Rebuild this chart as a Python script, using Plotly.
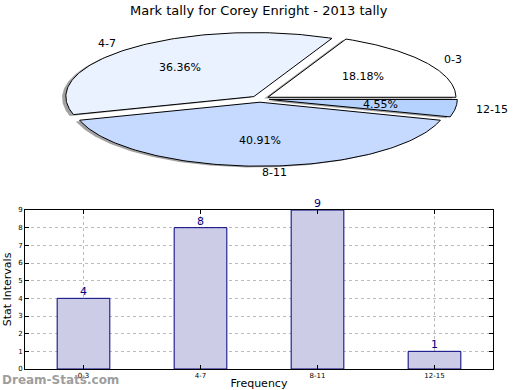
import numpy as np
import plotly.graph_objects as go

# ---- data ----
categories = ["0-3", "4-7", "8-11", "12-15"]
counts = [4, 8, 9, 1]
pie_colors = ["#FFFFFF", "#EBF2FF", "#C6D9FF", "#B5D2FF"]
explode = [0.05, 0.05, 0.05, 0.05]
title_text = "Mark tally for Corey Enright - 2013 tally"

# ---- pie geometry (pixel space of the top area) ----
cx, cy, rx, ry = 260.0, 99.0, 188.0, 64.0

fig = go.Figure()

total = float(sum(counts))
fracs = [c / total for c in counts]
starts = np.cumsum([0.0] + fracs[:-1]) * 360.0
ends = starts + np.array(fracs) * 360.0


def wedge(a0, a1, ox, oy):
    t = np.radians(np.linspace(a0, a1, 120))
    xs = np.concatenate([[cx + ox], cx + ox + rx * np.cos(t), [cx + ox]])
    ys = np.concatenate([[cy + oy], cy + oy - ry * np.sin(t), [cy + oy]])
    return xs, ys


offsets = []
for i in range(len(counts)):
    mid = np.radians((starts[i] + ends[i]) / 2)
    ox = explode[i] * rx * np.cos(mid)
    oy = -explode[i] * ry * np.sin(mid)
    offsets.append((ox, oy, mid))

# ---- bar chart ----
fig.add_trace(go.Bar(x=categories, y=counts, width=0.45,
                     marker=dict(color="#CCCCE6", line=dict(color="#000080", width=1)),
                     showlegend=False, xaxis="x", yaxis="y"))

# shadows
for i in range(len(counts)):
    ox, oy, mid = offsets[i]
    xs, ys = wedge(starts[i], ends[i], ox - 0.02 * rx, oy + 0.02 * ry)
    fig.add_trace(go.Scatter(x=xs, y=ys, xaxis="x2", yaxis="y2", mode="lines",
                             fill="toself", fillcolor="rgba(70,70,70,0.5)",
                             line=dict(width=0), hoverinfo="skip", showlegend=False))
# wedges
for i in range(len(counts)):
    ox, oy, mid = offsets[i]
    xs, ys = wedge(starts[i], ends[i], ox, oy)
    fig.add_trace(go.Scatter(x=xs, y=ys, xaxis="x2", yaxis="y2", mode="lines",
                             fill="toself", fillcolor=pie_colors[i],
                             line=dict(color="black", width=1), hoverinfo="skip",
                             showlegend=False))

annotations = []
for i in range(len(counts)):
    ox, oy, mid = offsets[i]
    lx = cx + ox + 1.1 * rx * np.cos(mid)
    ly = cy + oy - 1.1 * ry * np.sin(mid)
    annotations.append(dict(x=lx, y=ly, xref="x2", yref="y2", text=categories[i],
                            showarrow=False, xanchor="left" if np.cos(mid) > -1e-6 else "right",
                            yanchor="middle", font=dict(size=11, color="black")))
    px = cx + ox + 0.6 * rx * np.cos(mid)
    py = cy + oy - 0.6 * ry * np.sin(mid)
    annotations.append(dict(x=px, y=py, xref="x2", yref="y2",
                            text="%.2f%%" % (fracs[i] * 100), showarrow=False,
                            xanchor="center", yanchor="middle",
                            font=dict(size=11, color="black")))

# bar value labels
for c, v in zip(categories, counts):
    annotations.append(dict(x=c, y=v, xref="x", yref="y", text=str(v),
                            showarrow=False, xanchor="center", yanchor="bottom",
                            yshift=-2, font=dict(size=11, color="#000080")))

annotations.append(dict(x=259, y=10, xref="x2", yref="y2", text=title_text,
                        showarrow=False, xanchor="center", yanchor="middle",
                        font=dict(size=13, color="black")))
annotations.append(dict(x=0, y=10 / 390, xref="paper", yref="paper",
                        text="<b>Dream-Stats.com</b>",
                        showarrow=False, xanchor="left", yanchor="middle",
                        font=dict(size=12, color="rgba(140,140,140,0.85)")))

fig.update_layout(
    width=520, height=390,
    margin=dict(l=0, r=0, t=0, b=0),
    paper_bgcolor="white", plot_bgcolor="rgba(0,0,0,0)",
    font=dict(family="DejaVu Sans", color="black"),
    showlegend=False,
    xaxis=dict(domain=[25 / 520, 493 / 520], range=[-0.5, 3.5], type="category",
               showline=True, linecolor="black", linewidth=1, mirror="allticks",
               ticks="inside", ticklen=4, tickcolor="black",
               showgrid=True, gridcolor="#BBBBBB", griddash="dot", gridwidth=1,
               tickfont=dict(size=7), layer="above traces", automargin=False,
               title=dict(text="Frequency", font=dict(size=11), standoff=8),
               zeroline=False, fixedrange=True),
    yaxis=dict(domain=[21 / 390, 180 / 390], range=[0, 9], dtick=1,
               showline=True, linecolor="black", linewidth=1, mirror="allticks",
               ticks="inside", ticklen=4, tickcolor="black",
               showgrid=True, gridcolor="#BBBBBB", griddash="dot", gridwidth=1,
               tickfont=dict(size=7), layer="above traces", automargin=False,
               title=dict(text="Stat Intervals", font=dict(size=11), standoff=4),
               zeroline=False, fixedrange=True),
    xaxis2=dict(domain=[0, 1], range=[0, 520], visible=False, fixedrange=True),
    yaxis2=dict(domain=[0, 1], range=[390, 0], visible=False, fixedrange=True),
    annotations=annotations,
)

fig.write_html("out.html", config={"displayModeBar": False},
               post_script="document.body.style.margin='0';")
